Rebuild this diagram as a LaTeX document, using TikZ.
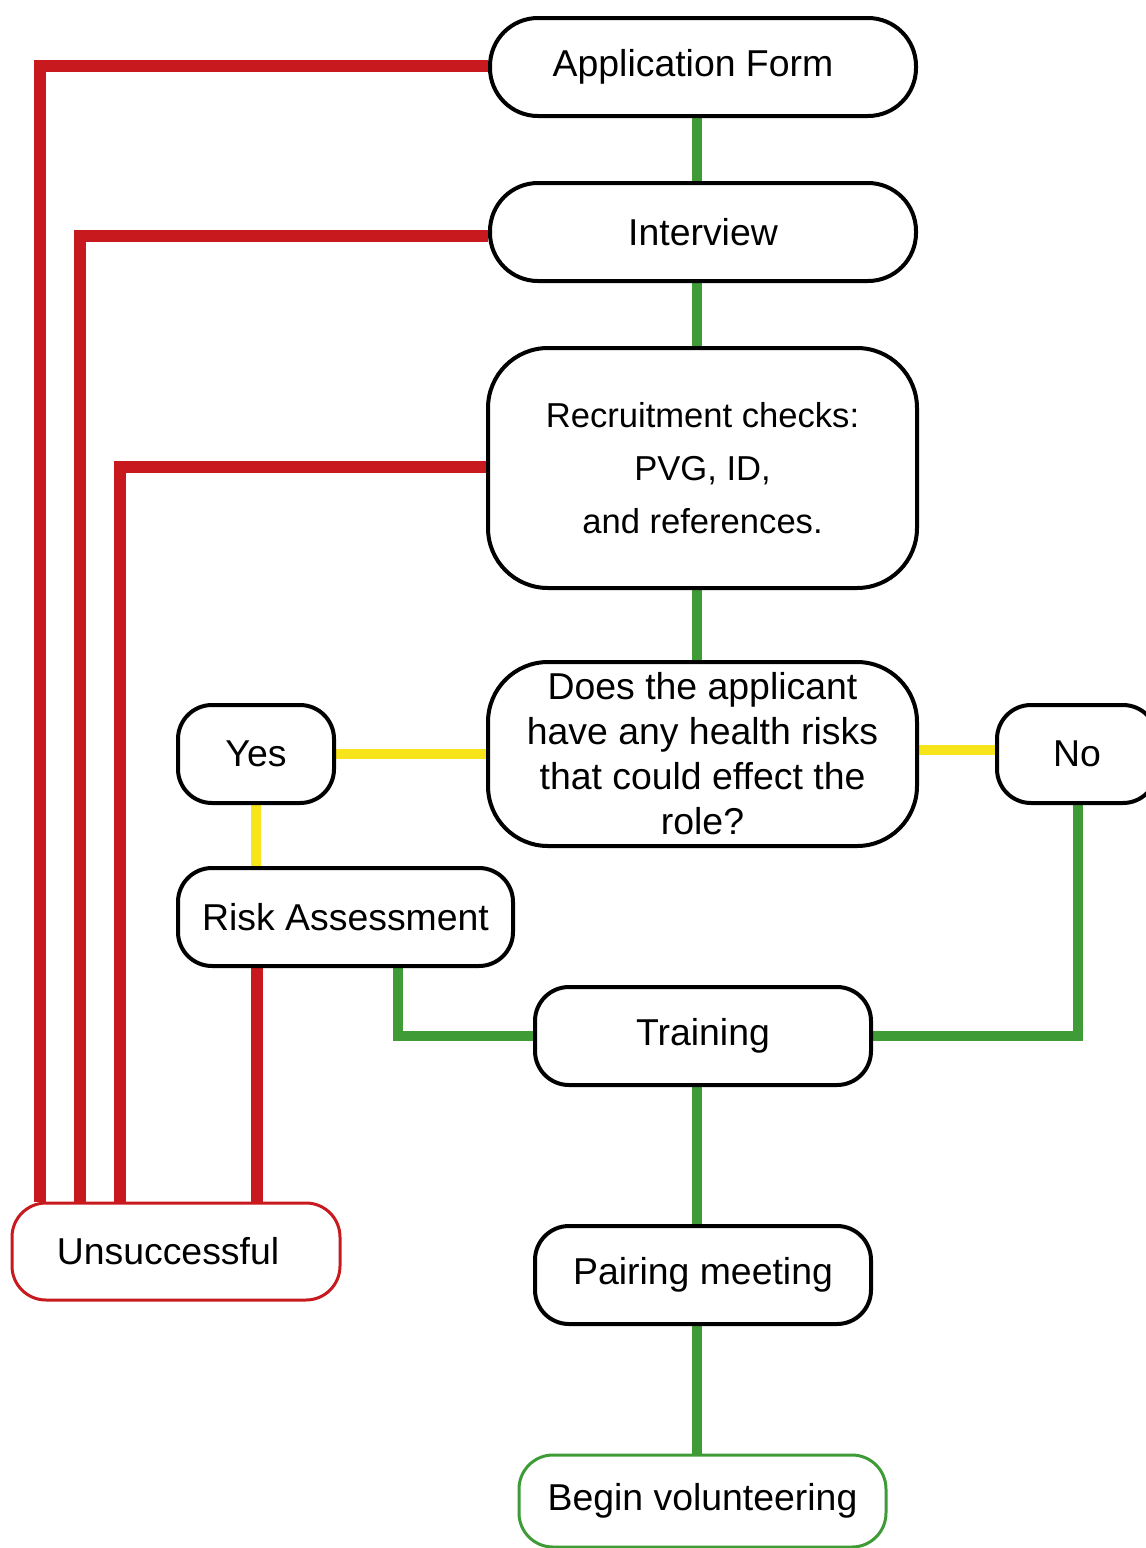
\documentclass[tikz,border=0pt]{standalone}
\usepackage{fontspec}
\setmainfont{Liberation Sans}
\usetikzlibrary{backgrounds}
\definecolor{lred}{HTML}{C81A1E}
\definecolor{lgreen}{HTML}{3E9B36}
\definecolor{lyellow}{HTML}{F7E41A}
\begin{document}
\begin{tikzpicture}[x=0.5pt,y=-0.5pt,
  box/.style={draw=black, line width=2pt, fill=white, rectangle, rounded corners=#1,
    inner sep=0pt, align=center, font=\fontsize{18.7}{22.5}\selectfont},
  box/.default=17pt,
  rline/.style={draw=lred, line width=6pt},
  gline/.style={draw=lgreen, line width=5pt},
  yline/.style={draw=lyellow, line width=5pt}]
\useasboundingbox (0,0) rectangle (1146,1548);

\node[box=24pt, minimum width=213pt, minimum height=49pt] (app) at (703,67) {\hspace*{-10pt}Application Form};
\node[box=24pt, minimum width=213pt, minimum height=49pt] (int) at (703,232) {Interview};
\node[box=30pt, minimum width=214.5pt, minimum height=120pt,
      font=\fontsize{17.3}{26.5}\selectfont] (rec) at (702.5,468)
  {Recruitment checks:\\PVG, ID,\\and references.};
\node[box=30pt, minimum width=214.5pt, minimum height=92pt] (hea) at (702.5,754)
  {Does the applicant\\have any health risks\\that could effect the\\role?};
\node[box, minimum width=78pt, minimum height=49pt] (yes) at (256,754) {Yes};
\node[box, minimum width=80pt, minimum height=49pt] (no) at (1077,754) {No};
\node[box, minimum width=167.5pt, minimum height=49pt] (risk) at (345.5,917) {Risk Assessment};
\node[box, minimum width=168pt, minimum height=49pt] (train) at (703,1036) {Training};
\node[box, draw=lred, line width=1.5pt, minimum width=164pt, minimum height=48.5pt] (uns) at (176,1251.5) {\hspace*{-8pt}Unsuccessful};
\node[box, minimum width=168pt, minimum height=49pt] (pair) at (703,1275) {Pairing meeting};
\node[box, draw=lgreen, line width=1.5pt, minimum width=183.5pt, minimum height=46pt] (beg) at (702.5,1501) {Begin volunteering};

\coordinate (g0) at (697,0);
\coordinate (r1) at (40,0);
\coordinate (r2) at (80,0);
\coordinate (r3) at (120,0);
\coordinate (r4) at (257,0);
\coordinate (g1) at (398,0);
\coordinate (g2) at (1078,0);

\begin{scope}[on background layer]
  \draw[gline] (app.south -| g0) -- (int.north -| g0);
  \draw[gline] (int.south -| g0) -- (rec.north -| g0);
  \draw[gline] (rec.south -| g0) -- (hea.north -| g0);
  \draw[gline] (train.south -| g0) -- (pair.north -| g0);
  \draw[gline] (pair.south -| g0) -- (beg.north -| g0);
  \draw[gline] (risk.south -| g1) |- (train.west);
  \draw[gline] (no.south -| g2) |- (train.east);

  \draw[rline] ([yshift=0.5pt]app.west) -| (r1 |- uns.north);
  \draw[rline] ([yshift=-2pt]int.west) -| (r2 |- uns.north);
  \draw[rline] ([yshift=0.5pt]rec.west) -| (r3 |- uns.north);
  \draw[rline] (risk.south -| r4) -- (r4 |- uns.north);

  \draw[yline] (yes.east) -- (hea.west);
  \draw[yline] ([yshift=2pt]hea.east) -- ([yshift=2pt]no.west);
  \draw[yline] (yes.south) -- (yes.south |- risk.north);
\end{scope}
\end{tikzpicture}
\end{document}
